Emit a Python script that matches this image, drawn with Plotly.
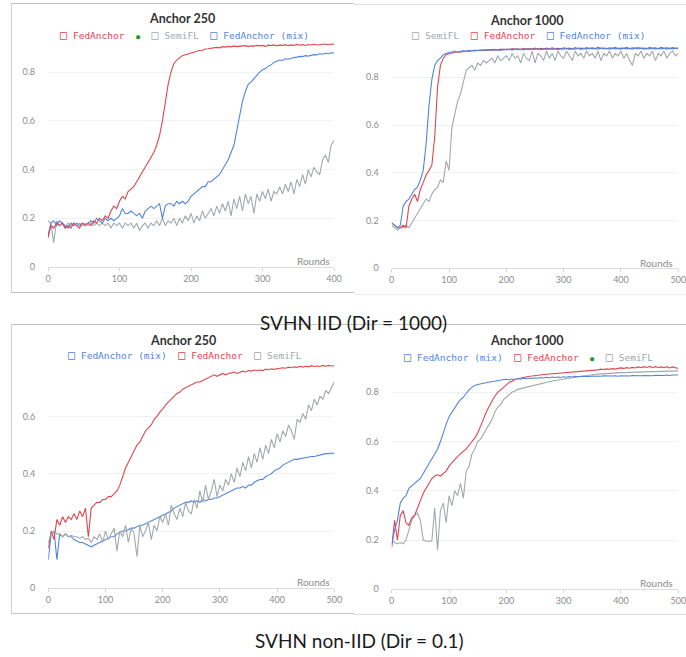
import plotly.graph_objects as go

W, H = 686, 657
def px(x): return x / W
def py(y): return 1 - y / H

RED = "#e0464e"
BLUE = "#4f86dc"
GRAY = "#a3a8ad"
GREEN = "#1f9a2a"

# ---------------- data ----------------
# Panel 1: SVHN IID, Anchor 250 (rounds 0..400 step 4)
p1_rounds = list(range(0, 401, 4))
p1_fedanchor = [0.12,0.17,0.16,0.18,0.17,0.18,0.16,0.17,0.16,0.18,0.17,0.16,0.18,0.17,0.18,0.17,0.19,0.18,0.2,0.19,
 0.21,0.2,0.23,0.25,0.24,0.27,0.29,0.28,0.31,0.32,0.33,0.35,0.37,0.39,0.41,0.43,0.45,0.47,0.5,0.54,
 0.6,0.68,0.75,0.8,0.835,0.85,0.86,0.868,0.872,0.876,0.88,0.882,0.886,0.889,0.89,0.895,0.896,0.898,0.897,0.902,
 0.9,0.905,0.903,0.906,0.904,0.908,0.905,0.907,0.906,0.909,0.905,0.908,0.907,0.91,0.908,0.91,0.906,0.911,0.909,0.912,
 0.908,0.911,0.91,0.913,0.909,0.912,0.91,0.914,0.911,0.913,0.91,0.914,0.912,0.915,0.912,0.914,0.913,0.916,0.913,0.916,0.915]
p1_mix = [0.13,0.18,0.19,0.17,0.19,0.18,0.17,0.16,0.18,0.17,0.18,0.17,0.18,0.17,0.18,0.19,0.18,0.2,0.19,0.18,
 0.2,0.19,0.2,0.19,0.2,0.21,0.24,0.22,0.22,0.23,0.22,0.21,0.22,0.2,0.23,0.24,0.25,0.24,0.25,0.26,
 0.2,0.25,0.26,0.26,0.25,0.27,0.26,0.27,0.26,0.27,0.29,0.3,0.31,0.32,0.33,0.33,0.35,0.35,0.36,0.37,
 0.38,0.4,0.42,0.44,0.47,0.5,0.56,0.62,0.68,0.72,0.75,0.76,0.775,0.79,0.8,0.81,0.815,0.825,0.83,0.84,
 0.845,0.85,0.848,0.855,0.853,0.858,0.86,0.862,0.865,0.864,0.868,0.866,0.87,0.872,0.871,0.876,0.874,0.878,0.876,0.88,0.879]
p1_semifl = [0.19,0.18,0.1,0.19,0.17,0.18,0.16,0.18,0.17,0.18,0.17,0.18,0.17,0.18,0.17,0.18,0.17,0.18,0.17,0.18,
 0.17,0.18,0.16,0.18,0.17,0.18,0.16,0.18,0.17,0.18,0.16,0.18,0.15,0.17,0.18,0.16,0.18,0.17,0.19,0.17,
 0.2,0.17,0.19,0.18,0.2,0.17,0.2,0.18,0.21,0.19,0.22,0.18,0.21,0.19,0.23,0.2,0.22,0.24,0.21,0.25,
 0.22,0.26,0.23,0.27,0.21,0.28,0.24,0.29,0.23,0.3,0.26,0.29,0.22,0.3,0.27,0.31,0.28,0.32,0.27,0.31,
 0.3,0.33,0.3,0.34,0.31,0.35,0.3,0.36,0.33,0.38,0.34,0.4,0.37,0.41,0.39,0.38,0.44,0.46,0.43,0.5,0.52]

# Panel 2: SVHN IID, Anchor 1000 (rounds 0..500 step 5)
p2_rounds = list(range(0, 501, 5))
p2_semifl = [0.18,0.17,0.16,0.17,0.17,0.18,0.17,0.19,0.21,0.23,0.25,0.27,0.29,0.28,0.31,0.33,0.34,0.37,0.36,0.45,
 0.41,0.59,0.64,0.7,0.73,0.78,0.83,0.84,0.85,0.83,0.86,0.85,0.87,0.86,0.87,0.88,0.86,0.89,0.87,0.88,
 0.89,0.87,0.9,0.88,0.89,0.86,0.9,0.88,0.87,0.91,0.86,0.9,0.89,0.87,0.91,0.88,0.9,0.87,0.91,0.89,
 0.88,0.91,0.89,0.87,0.91,0.89,0.9,0.88,0.91,0.89,0.9,0.88,0.91,0.87,0.9,0.89,0.91,0.88,0.9,0.89,
 0.91,0.88,0.9,0.87,0.85,0.9,0.89,0.91,0.88,0.9,0.89,0.91,0.87,0.9,0.89,0.91,0.88,0.9,0.91,0.89,0.9]
p2_fedanchor = [0.19,0.18,0.17,0.17,0.18,0.17,0.26,0.29,0.31,0.28,0.33,0.36,0.39,0.41,0.43,0.55,0.76,0.85,0.88,0.895,
 0.9,0.902,0.905,0.907,0.905,0.908,0.91,0.908,0.912,0.91,0.913,0.911,0.915,0.912,0.916,0.913,0.917,0.914,0.918,0.915,
 0.918,0.916,0.92,0.917,0.919,0.916,0.921,0.917,0.92,0.918,0.922,0.918,0.921,0.919,0.922,0.918,0.923,0.919,0.921,0.919,
 0.923,0.92,0.922,0.919,0.924,0.92,0.922,0.92,0.924,0.92,0.923,0.92,0.925,0.921,0.923,0.92,0.924,0.921,0.925,0.92,
 0.923,0.921,0.925,0.92,0.924,0.921,0.925,0.921,0.923,0.92,0.925,0.921,0.924,0.92,0.925,0.921,0.924,0.921,0.925,0.921,0.923]
p2_mix = [0.19,0.18,0.17,0.18,0.26,0.28,0.29,0.31,0.33,0.34,0.37,0.41,0.52,0.68,0.79,0.85,0.87,0.88,0.895,0.9,
 0.905,0.905,0.91,0.905,0.91,0.912,0.908,0.913,0.91,0.914,0.912,0.915,0.912,0.916,0.913,0.917,0.914,0.916,0.913,0.918,
 0.915,0.918,0.914,0.919,0.916,0.918,0.915,0.92,0.916,0.919,0.917,0.92,0.916,0.919,0.917,0.921,0.917,0.92,0.916,0.92,
 0.918,0.921,0.917,0.92,0.918,0.922,0.917,0.921,0.918,0.922,0.919,0.921,0.918,0.922,0.919,0.921,0.918,0.922,0.919,0.921,
 0.918,0.922,0.919,0.921,0.918,0.922,0.919,0.922,0.918,0.921,0.919,0.922,0.918,0.921,0.919,0.922,0.918,0.921,0.919,0.922,0.92]

# Panel 3: SVHN non-IID, Anchor 250
p3_rounds = list(range(0, 501, 5))
p3_mix = [0.1,0.19,0.2,0.1,0.19,0.18,0.19,0.18,0.18,0.17,0.165,0.16,0.16,0.155,0.15,0.145,0.15,0.155,0.16,0.165,
 0.17,0.175,0.18,0.18,0.19,0.195,0.2,0.2,0.205,0.21,0.21,0.215,0.22,0.22,0.225,0.23,0.235,0.24,0.245,0.25,
 0.255,0.26,0.265,0.27,0.28,0.285,0.29,0.295,0.3,0.3,0.305,0.3,0.305,0.3,0.31,0.305,0.31,0.31,0.315,0.315,
 0.32,0.325,0.33,0.335,0.34,0.345,0.35,0.35,0.355,0.35,0.36,0.36,0.37,0.375,0.38,0.38,0.39,0.395,0.4,0.41,
 0.415,0.42,0.43,0.435,0.44,0.445,0.45,0.45,0.452,0.455,0.455,0.458,0.46,0.46,0.463,0.465,0.468,0.47,0.47,0.472,0.47]
p3_fedanchor = [0.14,0.2,0.17,0.24,0.22,0.25,0.23,0.25,0.24,0.26,0.24,0.27,0.25,0.28,0.18,0.28,0.29,0.3,0.3,0.31,
 0.31,0.32,0.32,0.33,0.34,0.36,0.39,0.42,0.44,0.46,0.48,0.5,0.51,0.53,0.55,0.56,0.57,0.59,0.6,0.615,
 0.625,0.64,0.65,0.66,0.67,0.68,0.685,0.695,0.7,0.705,0.71,0.715,0.72,0.72,0.725,0.73,0.735,0.74,0.745,0.74,
 0.745,0.75,0.745,0.75,0.752,0.755,0.75,0.755,0.758,0.755,0.76,0.758,0.762,0.76,0.762,0.76,0.765,0.763,0.766,0.764,
 0.767,0.768,0.77,0.768,0.772,0.77,0.773,0.771,0.775,0.772,0.775,0.773,0.777,0.774,0.776,0.774,0.778,0.775,0.778,0.776,0.777]
p3_semifl = [0.16,0.19,0.2,0.19,0.19,0.18,0.19,0.18,0.185,0.18,0.18,0.175,0.18,0.17,0.175,0.16,0.18,0.17,0.19,0.16,
 0.2,0.17,0.19,0.21,0.13,0.2,0.18,0.22,0.16,0.21,0.19,0.11,0.22,0.18,0.2,0.23,0.17,0.22,0.2,0.25,
 0.23,0.26,0.22,0.29,0.26,0.24,0.28,0.25,0.3,0.27,0.26,0.31,0.28,0.34,0.3,0.36,0.31,0.34,0.38,0.32,
 0.36,0.34,0.38,0.36,0.4,0.37,0.42,0.39,0.44,0.41,0.46,0.42,0.47,0.44,0.49,0.45,0.5,0.47,0.52,0.49,
 0.54,0.51,0.55,0.53,0.57,0.55,0.52,0.59,0.58,0.61,0.59,0.64,0.62,0.66,0.64,0.67,0.66,0.69,0.68,0.7,0.72]

# Panel 4: SVHN non-IID, Anchor 1000
p4_rounds = list(range(0, 501, 5))
p4_mix = [0.18,0.24,0.28,0.35,0.37,0.38,0.41,0.42,0.43,0.44,0.45,0.47,0.49,0.51,0.53,0.55,0.57,0.6,0.64,0.67,
 0.7,0.72,0.74,0.755,0.77,0.78,0.795,0.81,0.82,0.828,0.832,0.835,0.838,0.84,0.842,0.844,0.845,0.848,0.85,0.852,
 0.853,0.85,0.854,0.852,0.856,0.853,0.857,0.855,0.858,0.856,0.859,0.857,0.86,0.858,0.861,0.859,0.862,0.86,0.862,0.86,
 0.863,0.861,0.864,0.862,0.865,0.863,0.865,0.864,0.866,0.864,0.866,0.865,0.867,0.865,0.867,0.866,0.868,0.866,0.867,0.865,
 0.867,0.866,0.868,0.866,0.868,0.867,0.869,0.867,0.868,0.867,0.869,0.867,0.869,0.868,0.87,0.868,0.87,0.868,0.87,0.869,0.87]
p4_fedanchor = [0.17,0.28,0.2,0.3,0.32,0.27,0.26,0.29,0.3,0.33,0.36,0.39,0.41,0.43,0.45,0.46,0.465,0.46,0.47,0.48,
 0.5,0.515,0.53,0.54,0.55,0.56,0.57,0.585,0.6,0.615,0.635,0.66,0.69,0.72,0.745,0.765,0.785,0.8,0.81,0.82,
 0.83,0.84,0.845,0.852,0.855,0.858,0.86,0.862,0.865,0.866,0.868,0.869,0.87,0.872,0.873,0.874,0.875,0.876,0.877,0.878,
 0.879,0.88,0.88,0.881,0.882,0.883,0.884,0.885,0.886,0.887,0.888,0.89,0.891,0.894,0.892,0.895,0.893,0.896,0.894,0.897,
 0.899,0.897,0.9,0.898,0.901,0.899,0.903,0.9,0.904,0.901,0.905,0.9,0.904,0.901,0.903,0.9,0.904,0.899,0.903,0.9,0.897]
p4_semifl = [0.2,0.19,0.185,0.19,0.185,0.2,0.24,0.28,0.3,0.31,0.28,0.2,0.195,0.195,0.195,0.33,0.16,0.32,0.35,0.27,
 0.38,0.34,0.4,0.38,0.43,0.37,0.48,0.5,0.55,0.57,0.6,0.61,0.63,0.65,0.67,0.69,0.72,0.74,0.75,0.77,
 0.78,0.79,0.8,0.805,0.812,0.815,0.818,0.82,0.825,0.828,0.83,0.833,0.836,0.838,0.842,0.845,0.846,0.848,0.85,0.852,
 0.854,0.856,0.858,0.86,0.862,0.864,0.866,0.868,0.87,0.871,0.872,0.873,0.874,0.875,0.876,0.877,0.877,0.878,0.879,0.879,
 0.88,0.88,0.881,0.881,0.882,0.882,0.882,0.883,0.883,0.883,0.884,0.884,0.884,0.885,0.885,0.885,0.886,0.886,0.886,0.887,0.887]

titles = ["Anchor 250", "Anchor 1000", "Anchor 250", "Anchor 1000"]
captions = ["SVHN IID (Dir = 1000)", "SVHN non-IID (Dir = 0.1)"]
y_ticks = [[0, 0.2, 0.4, 0.6, 0.8], [0, 0.2, 0.4, 0.6, 0.8], [0, 0.2, 0.4, 0.6], [0, 0.2, 0.4, 0.6, 0.8]]
y_tick_text = [["0", "0.2", "0.4", "0.6", "0.8"], ["0", "0.2", "0.4", "0.6", "0.8"],
               ["0", "0.2", "0.4", "0.6"], ["0", "0.2", "0.4", "0.6", "0.8"]]
x_ticks = [[0, 100, 200, 300, 400], [0, 100, 200, 300, 400, 500],
           [0, 100, 200, 300, 400, 500], [0, 100, 200, 300, 400, 500]]

# series per panel in draw order: (name, rounds, values, color)
panels_series = [
    [("SemiFL", p1_rounds, p1_semifl, GRAY), ("FedAnchor (mix)", p1_rounds, p1_mix, BLUE),
     ("FedAnchor", p1_rounds, p1_fedanchor, RED)],
    [("SemiFL", p2_rounds, p2_semifl, GRAY), ("FedAnchor", p2_rounds, p2_fedanchor, RED),
     ("FedAnchor (mix)", p2_rounds, p2_mix, BLUE)],
    [("FedAnchor (mix)", p3_rounds, p3_mix, BLUE), ("FedAnchor", p3_rounds, p3_fedanchor, RED),
     ("SemiFL", p3_rounds, p3_semifl, GRAY)],
    [("SemiFL", p4_rounds, p4_semifl, GRAY), ("FedAnchor", p4_rounds, p4_fedanchor, RED),
     ("FedAnchor (mix)", p4_rounds, p4_mix, BLUE)],
]

# legend order as shown (name, color); "dot" = small green status dot
legend_items = [
    [("FedAnchor", RED), "dot", ("SemiFL", GRAY), ("FedAnchor (mix)", BLUE)],
    [("SemiFL", GRAY), ("FedAnchor", RED), ("FedAnchor (mix)", BLUE)],
    [("FedAnchor (mix)", BLUE), ("FedAnchor", RED), ("SemiFL", GRAY)],
    [("FedAnchor (mix)", BLUE), ("FedAnchor", RED), "dot", ("SemiFL", GRAY)],
]

# ---------------- geometry (pixels) ----------------
geo = [
    dict(x0=48.0, x1=334.0, ybase=267.0, scale=243.5, ymax=0.95, xmax=400, tx=182, ty=18.5, ly=34.5, rx=332, ry=261),
    dict(x0=391.7, x1=678.3, ybase=268.3, scale=238.75, ymax=0.95, xmax=500, tx=526, ty=20, ly=35.5, rx=675, ry=262.7),
    dict(x0=48.3, x1=334.3, ybase=588.3, scale=286.5, ymax=0.8, xmax=500, tx=183, ty=340, ly=355, rx=332, ry=582),
    dict(x0=391.7, x1=678.3, ybase=589.3, scale=246.25, ymax=0.95, xmax=500, tx=526, ty=340.5, ly=356.5, rx=675, ry=583.3),
]

fig = go.Figure()
layout = dict(width=W, height=H, margin=dict(l=0, r=0, t=0, b=0),
              paper_bgcolor="white", plot_bgcolor="white", showlegend=False)
annotations = []
TICKFONT = dict(family="Lato, Noto Sans, sans-serif", size=9, color="#8c8c8c")

for i, (g, series) in enumerate(zip(geo, panels_series)):
    k = "" if i == 0 else str(i + 1)
    for name, xs, ys, col in series:
        fig.add_trace(go.Scatter(x=xs, y=ys, mode="lines", name=name,
                                 line=dict(color=col, width=1.1),
                                 xaxis="x" + k, yaxis="y" + k, hoverinfo="skip"))
    top = g["ybase"] - g["ymax"] * g["scale"]
    layout["xaxis" + k] = dict(domain=[px(g["x0"]), px(g["x1"])], range=[0, g["xmax"]],
                               anchor="y" + k, tickvals=x_ticks[i], ticks="outside", ticklen=3,
                               tickcolor="#d6d6d6", showline=True, linecolor="#dcdcdc",
                               linewidth=1, showgrid=False, zeroline=False, tickfont=TICKFONT,
                               automargin=False, ticklabeloverflow="allow")
    layout["yaxis" + k] = dict(domain=[py(g["ybase"]), py(top)], range=[0, g["ymax"]],
                               anchor="x" + k, tickvals=y_ticks[i], ticktext=y_tick_text[i],
                               showline=False, showgrid=True, gridcolor="#f1f1f1", gridwidth=1,
                               zeroline=False, ticks="", ticklabelstandoff=12, tickfont=TICKFONT,
                               automargin=False, ticklabeloverflow="allow")
    annotations.append(dict(text="<b>" + titles[i] + "</b>", x=px(g["tx"]), y=py(g["ty"]),
                            xref="paper", yref="paper", showarrow=False, xanchor="center", yanchor="middle",
                            font=dict(family="Lato, Noto Sans, sans-serif", size=12.5, color="#333333")))
    parts = []
    for it in legend_items[i]:
        if it == "dot":
            parts.append('<span style="color:%s;font-size:7px">●</span>' % GREEN)
        else:
            parts.append('<span style="color:%s"><span style="font-size:12px">□</span> %s</span>' % (it[1], it[0]))
    annotations.append(dict(text="&nbsp;&nbsp;".join(parts), x=px(g["tx"] + 2), y=py(g["ly"]),
                            xref="paper", yref="paper", showarrow=False, xanchor="center", yanchor="middle",
                            font=dict(family="DejaVu Sans Mono, monospace", size=9.5, color="#888")))
    annotations.append(dict(text="Rounds", x=px(g["rx"]), y=py(g["ry"]), xref="paper", yref="paper",
                            showarrow=False, xanchor="right", yanchor="middle",
                            font=dict(family="Lato, Noto Sans, sans-serif", size=10, color="#8c8c8c")))

annotations.append(dict(text=captions[0], x=px(353.5), y=py(323), xref="paper", yref="paper",
                        showarrow=False, xanchor="center", yanchor="middle",
                        font=dict(family="Lato, sans-serif", size=19, color="#1a1a1a")))
annotations.append(dict(text=captions[1], x=px(360), y=py(640), xref="paper", yref="paper",
                        showarrow=False, xanchor="center", yanchor="middle",
                        font=dict(family="Lato, sans-serif", size=19, color="#1a1a1a")))
layout["annotations"] = annotations

# panel frames (screenshot borders)
def hline(x0, x1, y, col):
    return dict(type="line", xref="paper", yref="paper", x0=px(x0), x1=px(x1), y0=py(y), y1=py(y),
                line=dict(color=col, width=1), layer="below")
def vline(x, y0, y1, col):
    return dict(type="line", xref="paper", yref="paper", x0=px(x), x1=px(x), y0=py(y0), y1=py(y1),
                line=dict(color=col, width=1), layer="below")
layout["shapes"] = [
    hline(11, 354, 3.5, "#c4c4c4"), hline(11, 354, 292.5, "#c4c4c4"), vline(11.5, 3.5, 292.5, "#d0d0d0"),
    hline(354, 686, 4.5, "#dedede"), hline(354, 686, 294.5, "#ececec"),
    hline(11, 686, 324.5, "#c4c4c4"), hline(11, 354, 613.5, "#c4c4c4"), vline(11.5, 324.5, 613.5, "#d0d0d0"),
    hline(354, 686, 614.5, "#dedede"),
]
fig.update_layout(**layout)
fig.write_html("out.html", config={"displayModeBar": False},
               post_script="document.body.style.margin='0';document.body.style.overflow='hidden';"
                           "document.documentElement.style.overflow='hidden';")
